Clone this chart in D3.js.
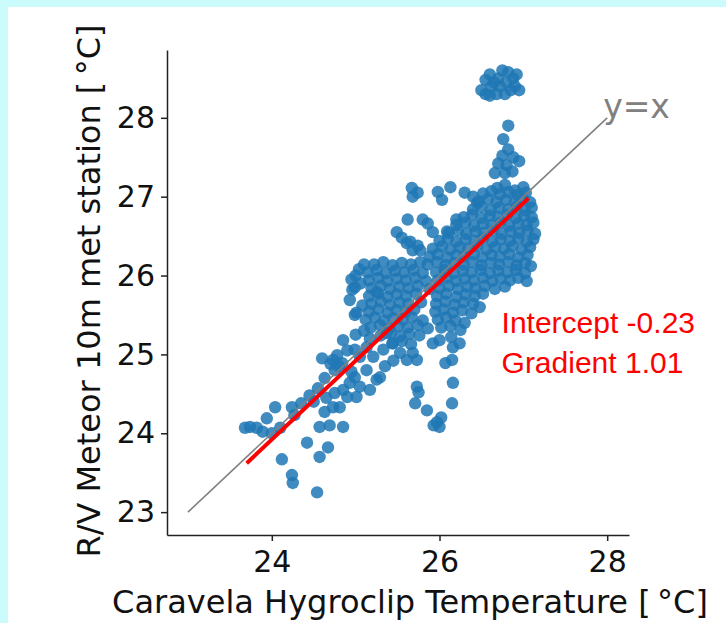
<!DOCTYPE html>
<html>
<head>
<meta charset="utf-8">
<script src="https://cdn.jsdelivr.net/npm/d3@7"></script>
<style>
  body { margin: 0; background: #fff; }
  svg { display: block; }
</style>
</head>
<body>
<svg id="plot" width="726" height="623"></svg>
<script>

// axis ticks
let xTicks = [24, 26, 28],
    yTicks = [23, 24, 25, 26, 27, 28];

// reference lines
let idX = [23, 28], idY = [23, 28];
let fitX = [23.7, 27.06], fitY = [23.62, 26.98];

// scatter, grouped by region of the cloud
let topCluster = [
  [26.55,28.3],[26.5,28.35],[26.6,28.28],[26.62,28.4],[26.55,28.48],[26.6,28.55],[26.7,28.5],
  [26.75,28.6],[26.82,28.58],[26.88,28.5],[26.9,28.4],[26.85,28.35],[26.72,28.4],[26.68,28.3],
  [26.8,28.45],[26.95,28.35],[26.78,28.3],[26.65,28.45],[26.92,28.55]
];

let stream = [
  [26.82,27.9],[26.76,27.73],[26.82,27.6],[26.75,27.52],[26.88,27.5],[26.95,27.45],[26.7,27.42],
  [26.8,27.4],[26.66,27.3],[26.78,27.3],[26.87,27.32]
];

let upperScatter = [
  [25.67,27.11],[25.74,27.05],[25.68,27.0],[25.98,27.06],[26.03,26.96],[26.13,27.12],[26.3,27.05],
  [26.4,27.0],[26.45,26.92],[26.69,27.11],[26.78,27.15],[26.9,27.08],[27.0,27.12],
  [25.62,26.71],[25.8,26.71],[25.86,26.66],[25.92,26.55],[25.49,26.55],[25.55,26.48],[25.65,26.43],
  [25.61,26.41],[25.74,26.38],[25.77,26.32],[25.68,26.32],[26.2,26.71],[26.09,26.56]
];

let mainBody = [
  [26.52,27.04],[26.62,27.07],[26.72,27.03],[26.82,27.06],[26.93,27.02],[27.03,27.05],
  [26.47,26.94],[26.58,26.97],[26.68,26.93],[26.79,26.96],[26.9,26.94],[27.0,26.97],[27.08,26.93],
  [26.4,26.84],[26.5,26.87],[26.61,26.83],[26.71,26.86],[26.82,26.84],[26.92,26.87],[27.02,26.83],[27.1,26.86],
  [26.29,26.74],[26.39,26.77],[26.5,26.73],[26.6,26.76],[26.7,26.74],[26.81,26.77],[26.91,26.73],[27.01,26.76],[27.1,26.74],
  [26.2,26.64],[26.31,26.67],[26.41,26.63],[26.52,26.66],[26.62,26.64],[26.73,26.67],[26.83,26.63],[26.94,26.66],[27.04,26.64],[27.12,26.67],
  [26.11,26.54],[26.22,26.57],[26.32,26.53],[26.43,26.56],[26.53,26.54],[26.64,26.57],[26.74,26.53],[26.85,26.56],[26.95,26.54],[27.05,26.57],[27.14,26.53],
  [26.0,26.44],[26.1,26.47],[26.2,26.43],[26.31,26.46],[26.42,26.44],[26.52,26.47],[26.63,26.43],[26.73,26.46],[26.84,26.44],[26.94,26.47],[27.04,26.43],[27.12,26.46],
  [25.92,26.34],[26.03,26.37],[26.13,26.33],[26.24,26.36],[26.34,26.34],[26.45,26.37],[26.56,26.33],[26.66,26.36],[26.77,26.34],[26.87,26.37],[26.98,26.33],[27.08,26.36],
  [25.88,26.24],[25.98,26.27],[26.09,26.23],[26.2,26.26],[26.3,26.24],[26.41,26.27],[26.51,26.23],[26.62,26.26],[26.72,26.24],[26.83,26.27],[26.94,26.23],[27.05,26.26],
  [25.86,26.14],[25.97,26.17],[26.07,26.13],[26.18,26.16],[26.29,26.14],[26.39,26.17],[26.5,26.13],[26.61,26.16],[26.71,26.14],[26.82,26.17],[26.92,26.13],[27.02,26.16],[27.09,26.12],
  [25.96,26.04],[26.06,26.07],[26.17,26.03],[26.28,26.06],[26.38,26.04],[26.49,26.07],[26.6,26.03],[26.7,26.06],[26.81,26.04],[26.91,26.07],[27.02,26.03],
  [25.98,25.94],[26.09,25.97],[26.2,25.93],[26.3,25.96],[26.41,25.94],[26.52,25.97],[26.63,25.93],[26.73,25.96],[26.84,25.94],[26.94,25.97],[27.04,25.93],
  [26.0,25.84],[26.11,25.87],[26.22,25.83],[26.33,25.86],[26.43,25.84],[26.54,25.87],[26.66,25.83],[26.78,25.86],
  [25.97,25.74],[26.08,25.77],[26.2,25.73],[26.31,25.76],[26.42,25.74],[26.52,25.77],
  [25.96,25.64],[26.07,25.67],[26.18,25.63],[26.29,25.66],[26.4,25.64],[26.48,25.6],
  [25.95,25.54],[26.05,25.57],[26.16,25.53],[26.27,25.56],[26.38,25.52],
  [25.98,25.44],[26.08,25.47],[26.19,25.43],[26.3,25.4],
  [26.02,25.34],[26.13,25.36],[26.25,25.31],
  [26.0,25.18],[26.14,25.22],[26.24,25.14],[26.16,25.09],[25.92,25.14]
];

let leftBlob = [
  [25.22,26.14],[25.33,26.17],[25.44,26.13],[25.55,26.16],[25.66,26.14],[25.77,26.17],
  [25.14,26.04],[25.25,26.07],[25.36,26.03],[25.47,26.06],[25.58,26.04],[25.69,26.07],[25.8,26.03],
  [25.16,25.94],[25.27,25.97],[25.38,25.93],[25.49,25.96],[25.6,25.94],[25.71,25.97],[25.84,25.93],
  [25.19,25.84],[25.3,25.87],[25.41,25.83],[25.52,25.86],[25.63,25.84],[25.74,25.87],[25.88,25.83],
  [25.16,25.74],[25.27,25.77],[25.38,25.73],[25.49,25.76],[25.6,25.74],[25.72,25.77],
  [25.19,25.64],[25.3,25.67],[25.41,25.63],[25.52,25.66],[25.63,25.64],[25.78,25.66],
  [25.16,25.54],[25.27,25.57],[25.38,25.53],[25.49,25.56],[25.6,25.54],[25.7,25.57],
  [25.12,25.44],[25.23,25.47],[25.34,25.43],[25.45,25.46],[25.56,25.44],[25.67,25.47],[25.8,25.43],
  [25.18,25.34],[25.29,25.37],[25.4,25.33],[25.51,25.36],[25.62,25.34],[25.74,25.37],[25.86,25.33],
  [25.3,25.24],[25.42,25.27],[25.53,25.23],[25.64,25.26],[25.76,25.24],
  [25.44,25.14],[25.55,25.17],[25.66,25.13],
  [24.96,25.82],[24.93,25.69],[24.99,25.5],[25.01,25.53],[25.25,25.79],[24.99,25.85],[25.0,26.0],
  [25.06,25.9],[25.04,26.08],[25.08,25.62],[24.95,25.95],[25.1,26.14]
];

let middle = [
  [24.85,25.18],[24.99,25.06],[25.05,24.97],[25.13,25.09],[25.21,24.97],[25.33,25.06],[25.37,25.27],
  [25.44,25.14],[25.53,25.02],[25.61,24.93],[25.68,25.02],[25.17,25.2],[25.0,25.25],[24.73,24.93],
  [24.84,24.89],[24.75,24.8],[25.35,24.85],[25.45,24.92],[24.95,24.78],[25.73,24.93],[25.1,25.3],
  [24.9,25.05],[24.78,24.99]
];

let lowerTail = [
  [24.93,24.64],[24.99,24.71],[25.05,24.59],[25.01,24.46],[25.13,24.8],[25.17,24.55],[25.25,24.68],
  [25.29,24.71],[24.9,24.46],[24.75,24.51],[24.81,24.33],[24.73,24.33],[24.63,24.27],[24.57,24.08],
  [24.69,24.1],[24.85,24.08],[24.42,23.88],[24.57,23.7],[24.67,23.82],[24.12,23.67],[24.24,23.47],
  [24.25,23.37],[24.54,23.25],[24.24,24.33],[24.27,24.23],[24.04,24.33],[23.94,24.19],[23.74,24.08],
  [23.82,24.07],[23.89,24.02],[24.0,24.0],[24.1,24.07],[23.68,24.07],[24.45,24.48],[24.55,24.57],
  [24.63,24.7],[24.6,24.95],[24.7,24.88],[24.8,24.85],[24.35,24.38],[24.5,24.4],[24.85,24.55],[24.65,24.45]
];

let dropGroup = [
  [26.07,24.89],[26.15,24.93],[26.16,24.64],[26.15,24.38],[25.73,24.59],[25.71,24.38],[25.85,24.29],
  [25.97,24.14],[26.0,24.08],[25.93,24.1],[26.02,24.2],[25.75,24.52]
];

let points = [].concat(topCluster, stream, upperScatter, mainBody, leftBlob, middle, lowerTail, dropGroup);

let svg = d3.select('#plot');

// cyan frame round the figure
svg.append('rect').attr('width', 726).attr('height', 623).attr('fill', '#cbfbfb');
svg.append('rect').attr('x', 8).attr('y', 7).attr('width', 718).attr('height', 616).attr('fill', '#ffffff');

let x = d3.scaleLinear().domain([22.75, 28.26]).range([167, 629]),
    y = d3.scaleLinear().domain([22.71, 28.86]).range([535, 50]);

let font = 'DejaVu Sans';

// scatter
svg.append('g')
    .selectAll('circle')
    .data(points)
    .enter()
    .append('circle')
    .attr('cx', d => x(d[0]))
    .attr('cy', d => y(d[1]))
    .attr('r', 6.2)
    .attr('fill', '#1f77b4')
    .attr('fill-opacity', 0.85);

// y = x
svg.append('line')
    .attr('x1', x(idX[0])).attr('y1', y(idY[0]))
    .attr('x2', x(idX[1])).attr('y2', y(idY[1]))
    .attr('stroke', '#808080')
    .attr('stroke-width', 1.6);

svg.append('text')
    .attr('x', x(idX[1]) - 4)
    .attr('y', y(idY[1]))
    .attr('font-family', font)
    .attr('font-size', 33)
    .attr('fill', '#808080')
    .text('y=x');

// fitted line
svg.append('line')
    .attr('x1', x(fitX[0])).attr('y1', y(fitY[0]))
    .attr('x2', x(fitX[1])).attr('y2', y(fitY[1]))
    .attr('stroke', '#ff0000')
    .attr('stroke-width', 4);

svg.append('text')
    .attr('x', x(26.74))
    .attr('y', y(25.27))
    .attr('font-family', 'Liberation Sans')
    .attr('font-size', 30)
    .attr('fill', '#ff0000')
    .text('Intercept -0.23');

svg.append('text')
    .attr('x', x(26.74))
    .attr('y', y(24.76))
    .attr('font-family', 'Liberation Sans')
    .attr('font-size', 30)
    .attr('fill', '#ff0000')
    .text('Gradient 1.01');

// axes
let gx = svg.append('g')
    .attr('transform', 'translate(0,535)')
    .call(d3.axisBottom(x).tickValues(xTicks).tickSize(6).tickSizeOuter(0).tickPadding(10).tickFormat(d3.format('d')));

let gy = svg.append('g')
    .attr('transform', 'translate(167,0)')
    .call(d3.axisLeft(y).tickValues(yTicks).tickSize(6).tickSizeOuter(0).tickPadding(6).tickFormat(d3.format('d')));

[gx, gy].forEach(g => {
    g.select('.domain').attr('stroke', '#222').attr('stroke-width', 1.5);
    g.selectAll('.tick line').attr('stroke', '#222').attr('stroke-width', 1.5);
    g.selectAll('.tick text')
        .attr('font-family', font)
        .attr('font-size', 30)
        .attr('fill', '#111');
});

// axis titles
svg.append('text')
    .attr('x', 410)
    .attr('y', 613)
    .attr('text-anchor', 'middle')
    .attr('font-family', font)
    .attr('font-size', 32)
    .attr('fill', '#111')
    .text('Caravela Hygroclip Temperature [\u2009°C]');

svg.append('text')
    .attr('transform', 'translate(100,291) rotate(-90)')
    .attr('text-anchor', 'middle')
    .attr('font-family', font)
    .attr('font-size', 32)
    .attr('fill', '#111')
    .text('R/V Meteor 10m met station [\u2009°C]');

</script>
</body>
</html>
